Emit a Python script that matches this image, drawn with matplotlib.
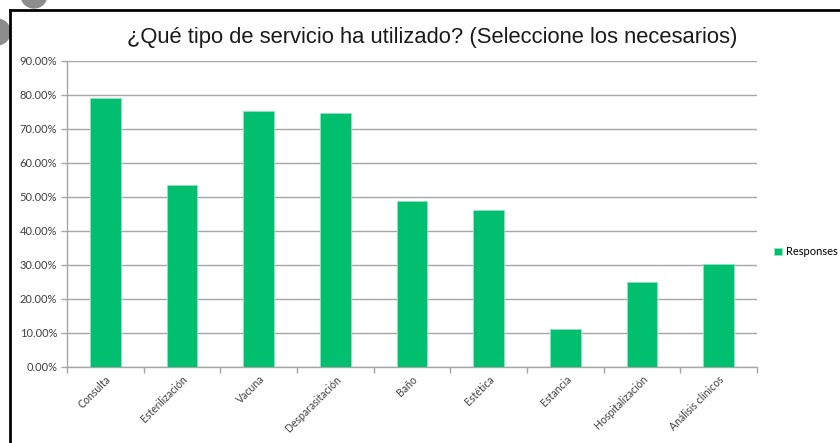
import numpy as np
import matplotlib.pyplot as plt
from matplotlib.patches import Circle
from matplotlib.lines import Line2D

categorias = ["Consulta", "Esterilización", "Vacuna", "Desparasitación", "Baño",
              "Estética", "Estancia", "Hospitalización", "Análisis clínicos"]
respuestas = [79.1, 53.4, 75.1, 74.6, 48.7, 46.1, 11.0, 24.9, 30.2]
ticks_y = [0, 10, 20, 30, 40, 50, 60, 70, 80, 90]

verde = "#00BF6F"
gris = "#A6A6A6"

plt.rcParams['font.family'] = ['Lato', 'DejaVu Sans']

fig = plt.figure(figsize=(8.4, 4.43), dpi=100)
ax = fig.add_axes([67/840, 1 - 366.7/443, 690/840, 306/443])

x = np.arange(len(categorias))
ax.bar(x, respuestas, width=0.4, color=verde, edgecolor="#8FE3BE", linewidth=0.6,
       label="Responses", zorder=3)

ax.set_xlim(-0.5, len(categorias) - 0.5)
ax.set_ylim(0, 90)
ax.set_yticks(ticks_y)
ax.set_yticklabels([f"{v:.2f}%" for v in ticks_y], fontsize=8, color="#404040")
ax.yaxis.grid(True, color=gris, linewidth=1, zorder=0)

# marcas del eje x en los limites de categoria, estilo excel
ax.set_xticks(np.arange(len(categorias) + 1) - 0.5, minor=False)
ax.set_xticklabels([])
ax.set_xticks(x, minor=True)
ax.set_xticklabels(categorias, minor=True, rotation=45, ha="right",
                   rotation_mode="anchor", fontsize=7.6, color="#404040")
ax.tick_params(axis="x", which="minor", length=0, pad=5)
ax.tick_params(axis="x", which="major", length=4, color=gris, width=1)
ax.tick_params(axis="y", length=4, color=gris, width=1, pad=3)

for s in ["top", "right"]:
    ax.spines[s].set_visible(False)
for s in ["left", "bottom"]:
    ax.spines[s].set_color(gris)
    ax.spines[s].set_linewidth(1)

fig.text(432/840, 1 - 37/443, "¿Qué tipo de servicio ha utilizado? (Seleccione los necesarios)",
         ha="center", va="center", fontsize=15.8, color="#1a1a1a",
         family=["Liberation Sans", "DejaVu Sans"])

ax.legend(loc="center left", bbox_to_anchor=(1.01, 0.375), frameon=False,
          fontsize=8, handlelength=0.7, handleheight=0.7, handletextpad=0.4)

# marco negro y manchas grises de la captura
fig.add_artist(Line2D([10/840, 10/840], [0, 1 - 10/443], transform=fig.transFigure,
                      color="black", linewidth=2))
fig.add_artist(Line2D([10/840, 1], [1 - 10/443, 1 - 10/443], transform=fig.transFigure,
                      color="black", linewidth=2))
fig.add_artist(Circle((34, 443 + 5), 13, transform=None, color="#8c8c8c"))
fig.add_artist(Circle((-3, 443 - 32), 13, transform=None, color="#8c8c8c"))

fig.savefig("out.png", dpi=100)
